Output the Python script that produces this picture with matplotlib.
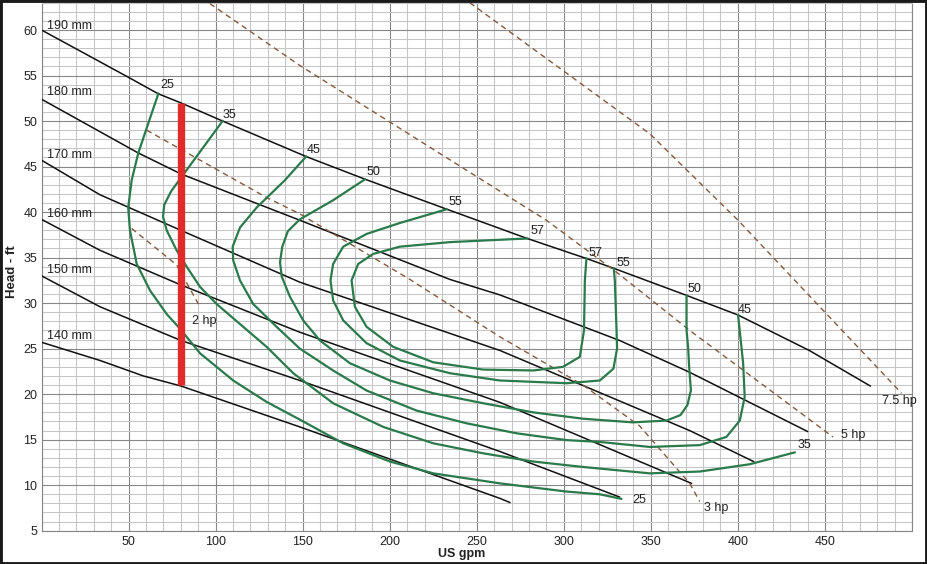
import matplotlib.pyplot as plt
from matplotlib.patches import Rectangle

plt.rcParams['font.family'] = ['Liberation Sans', 'DejaVu Sans']

# impeller head curves, flow in US gpm / head in ft
q_190 = [0, 50, 67, 80, 104, 152, 186, 233, 279, 313, 329, 370.5, 400, 441, 476]
h_190 = [60, 54.8, 53.0, 52.0, 50.0, 46.1, 43.6, 40.3, 37.1, 34.9, 33.8, 30.85, 28.7, 24.8, 20.9]
q_180 = [0, 55.5, 80, 148.4, 234.6, 263.3, 332, 372.3, 440]
h_180 = [52.4, 46.5, 44.2, 39.1, 32.6, 30.9, 25.9, 22.4, 15.9]
q_170 = [0, 33.6, 80, 148.4, 263.3, 372.3, 409]
h_170 = [45.7, 41.9, 38.0, 32.3, 24.8, 16.0, 12.6]
q_160 = [0, 33.6, 80, 148.4, 263.3, 373.3]
h_160 = [39.2, 35.8, 32.0, 26.8, 19.1, 10.2]
q_150 = [0, 33.6, 80, 148.4, 263.3, 332]
h_150 = [33.0, 29.6, 25.9, 21.5, 13.7, 8.7]
q_140 = [0, 33.6, 58.5, 80, 148.4, 263.3, 269]
h_140 = [25.7, 23.7, 22.0, 20.9, 16.4, 8.55, 8.1]
head_names = ['190 mm', '180 mm', '170 mm', '160 mm', '150 mm', '140 mm']
head_label_y = [60.1, 52.85, 45.97, 39.5, 33.3, 26.05]

# efficiency curves (%)
q_e25 = [67.1, 55.6, 51.8, 49.8, 50.8, 54.7, 62.3, 71.9, 79.5, 91, 110.1, 129.3, 148.4,
         173.3, 200.1, 225, 263.3, 301.6, 320.7, 333]
h_e25 = [53.0, 46.5, 43.5, 40.5, 38.0, 34.3, 31.4, 28.8, 27.2, 24.5, 21.5, 19.15, 17.2,
         14.6, 12.6, 11.3, 10.2, 9.3, 9.0, 8.5]
q_e35 = [104.0, 81.0, 74.5, 70.5, 69.8, 71.9, 77.6, 83.4, 91.0, 100.6, 114.0, 129.3, 144.6,
         159.9, 167.5, 196.3, 225, 253.7, 282.4, 311.1, 349.4, 378.1, 406.8, 432.6]
h_e35 = [50.0, 44.0, 42.3, 40.8, 39.5, 38.0, 35.8, 34.0, 31.8, 29.9, 27.7, 25.2, 22.3,
         20.1, 19.0, 16.4, 14.6, 13.5, 12.6, 12.0, 11.3, 11.5, 12.3, 13.6]
q_e45 = [152, 139.8, 123.6, 114, 109.8, 110.1, 114, 121.6, 135, 148.4, 167.5, 186.7, 215.4,
         244.1, 272.9, 301.6, 320.7, 349.4, 378.1, 393.4, 401.1, 403.9, 403, 400.1]
h_e45 = [46.1, 43.5, 40.5, 38.3, 36.2, 34.7, 32.5, 29.9, 27.4, 25.0, 22.6, 20.4, 18.2,
         16.8, 15.7, 14.95, 14.75, 14.2, 14.4, 15.3, 17.1, 19.7, 23.4, 28.7]
q_e50 = [185.8, 167.5, 148.4, 141.5, 138.3, 137, 138, 142.7, 150.3, 159.9, 177.1, 200.1, 225,
         253.7, 282.4, 311.1, 339.8, 359, 367, 371, 373, 372, 371.4, 370.5, 370.5]
h_e50 = [43.6, 41.3, 39.2, 37.9, 36.2, 34.5, 32.9, 30.7, 28.1, 25.9, 23.4, 21.5, 20.1,
         19.0, 18.0, 17.3, 16.9, 17.1, 17.7, 18.8, 20.4, 23.0, 25.2, 27.0, 30.85]
q_e55 = [232.6, 205.8, 186.7, 173.3, 167.5, 166, 167.5, 173.3, 186.7, 205.8, 234.6, 263.3,
         301.6, 320.7, 328.5, 330.6, 330.3, 329.3, 328.7]
h_e55 = [40.3, 38.8, 37.6, 36.2, 34.3, 32.5, 30.3, 28.1, 25.6, 23.7, 22.3, 21.5,
         21.2, 21.5, 22.8, 25.0, 27.0, 32.5, 33.8]
q_e57 = [279, 234.6, 205.8, 190.5, 181.9, 178.1, 180, 186.7, 202, 225, 253.7, 282.4,
         299.6, 309.2, 311.6, 312.1, 313]
h_e57 = [37.1, 36.7, 36.2, 35.4, 34.3, 32.5, 29.6, 27.4, 25.2, 23.5, 22.7, 22.6,
         23.0, 24.1, 27.0, 32.5, 34.9]
eff_labels = ['25', '35', '45', '50', '55', '57', '57', '55', '50', '45', '35', '25']
eff_label_x = [68.0, 104.2, 152.6, 186.7, 234.0, 281.1, 314.0, 330.3, 370.8, 400.1, 434.0, 339.2]
eff_label_y = [53.58, 50.29, 46.45, 44.07, 40.78, 37.57, 35.22, 34.12, 31.27, 28.9, 14.09, 8.06]

# power lines (hp)
q_2hp = [51.8, 77.6, 91]
h_2hp = [38.2, 34.2, 29.6]
q_3hp = [60.4, 129.3, 148.4, 211.6, 263.3, 311, 343.6, 372.3, 378.1]
h_3hp = [49.0, 41.6, 39.8, 32.6, 26.3, 21.0, 16.5, 10.2, 8.2]
q_5hp = [96.7, 148.4, 244.1, 290, 330.3, 372.3, 454.6]
h_5hp = [62.9, 56.1, 44.6, 39.1, 33.4, 27.0, 15.3]
q_75hp = [246, 320.7, 349.4, 400.1, 431.7, 494]
h_75hp = [63.0, 52.6, 48.6, 39.1, 32.7, 20.1]
hp_labels = ['2 hp', '3 hp', '5 hp', '7.5 hp']
hp_label_x = [86.6, 380.4, 459.5, 483.0]
hp_label_y = [27.67, 7.19, 15.22, 18.9]

# duty point bar
duty_q = [80, 80]
duty_h = [21.0, 52.0]

xticks = [50, 100, 150, 200, 250, 300, 350, 400, 450]
yticks = [5, 10, 15, 20, 25, 30, 35, 40, 45, 50, 55, 60]

fig = plt.figure(figsize=(9.27, 5.64), dpi=100)
ax = fig.add_axes([41.5 / 927, 1 - 530.7 / 564, (912 - 41.5) / 927, (530.7 - 2.7) / 564])
ax.set_xlim(0, 500)
ax.set_ylim(5, 63)

# grid
ax.set_xticks(range(0, 501, 50))
ax.set_xticks(range(0, 501, 10), minor=True)
ax.set_yticks(range(5, 61, 5))
ax.set_yticks(range(5, 64, 1), minor=True)
ax.set_xticklabels([str(v) if v in xticks else '' for v in range(0, 501, 50)])
ax.set_yticklabels([str(v) for v in yticks])
ax.grid(which='minor', color='#c6c6c6', lw=0.75)
ax.grid(which='major', color='#878787', lw=0.8)
ax.set_axisbelow(True)
ax.tick_params(which='both', length=0)
ax.tick_params(axis='x', pad=4, labelsize=9, labelcolor='#222222')
ax.tick_params(axis='y', pad=3, labelsize=9, labelcolor='#222222')
for s in ax.spines.values():
    s.set_color('#878787')
    s.set_linewidth(0.8)
ax.spines['top'].set_color('#c6c6c6')

green = '#2b7a4b'
brown = '#86593b'

heads = [(q_190, h_190), (q_180, h_180), (q_170, h_170),
         (q_160, h_160), (q_150, h_150), (q_140, h_140)]
for (q, h), name, ly in zip(heads, head_names, head_label_y):
    ax.plot(q, h, color='#111111', lw=1.1, zorder=3)
    ax.text(3, ly, name, fontsize=9, color='#222222', va='baseline', ha='left', zorder=5)

for q, h in [(q_e25, h_e25), (q_e35, h_e35), (q_e45, h_e45),
             (q_e50, h_e50), (q_e55, h_e55), (q_e57, h_e57)]:
    ax.plot(q, h, color=green, lw=1.6, zorder=4, solid_joinstyle='round')

for t, x, y in zip(eff_labels, eff_label_x, eff_label_y):
    ax.text(x, y, t, fontsize=9, color='#222222', va='baseline', ha='left', zorder=5)

for q, h in [(q_2hp, h_2hp), (q_3hp, h_3hp), (q_5hp, h_5hp), (q_75hp, h_75hp)]:
    ax.plot(q, h, color=brown, lw=1.0, ls=(0, (4, 3)), zorder=3)

for t, x, y in zip(hp_labels, hp_label_x, hp_label_y):
    ax.text(x, y, t, fontsize=9, color='#222222', va='baseline', ha='left', zorder=5)

ax.plot(duty_q, duty_h, color='#e12b2b', lw=5.3, solid_capstyle='butt', zorder=6)

fig.text(461.7 / 927, 1 - 554.5 / 564, 'US gpm', fontsize=9, fontweight='bold',
         ha='center', va='center', color='#222222')
fig.text(12 / 927, 1 - 271.7 / 564, 'Head - ft', fontsize=9.5, fontweight='bold',
         ha='center', va='center', rotation=90, color='#222222')

fig.patches.append(Rectangle((0, 0), 1, 1, transform=fig.transFigure, fill=False,
                             edgecolor='#1a1a1a', lw=3.5, zorder=10))

fig.savefig('out.png', dpi=100)
